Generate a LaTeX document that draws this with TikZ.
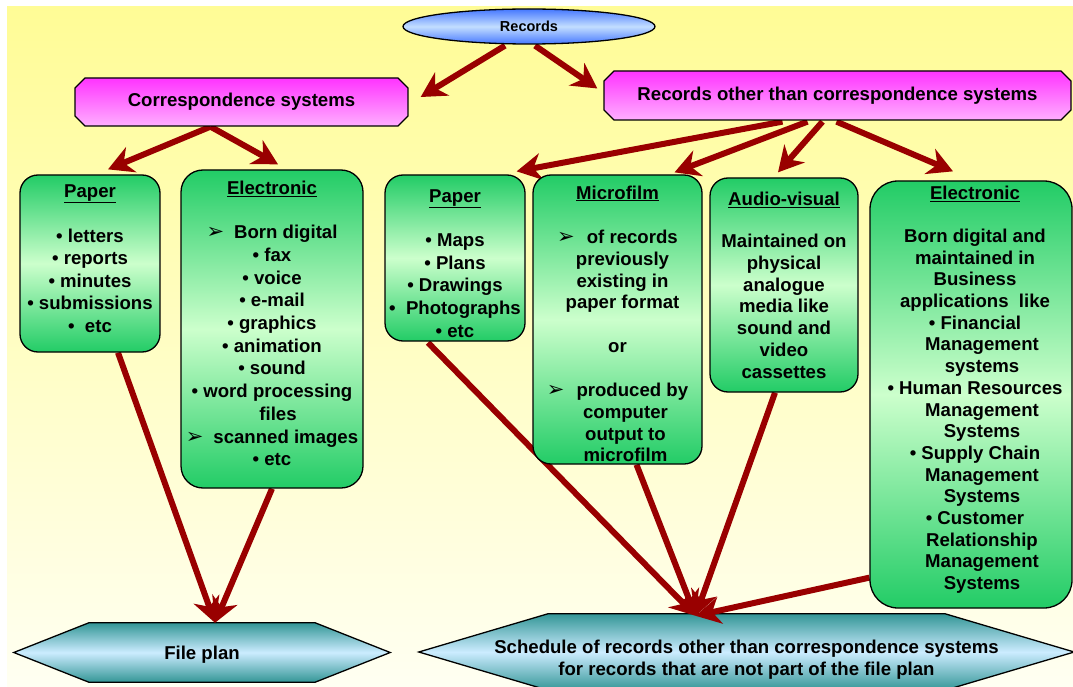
\documentclass[tikz,border=0pt]{standalone}
\usepackage{fontspec}
\setmainfont{Liberation Sans}
\newfontfamily\dingfont{DejaVu Sans}
\usetikzlibrary{arrows.meta,calc,shapes.misc,shapes.geometric}
\definecolor{arrowred}{RGB}{153,0,0}
\definecolor{boxgreen}{RGB}{34,204,102}
\definecolor{palegreen}{RGB}{204,255,204}
\definecolor{pinktop}{RGB}{255,51,255}
\definecolor{pinkpale}{RGB}{255,175,255}
\definecolor{hexteal}{RGB}{51,150,150}
\definecolor{hexpale}{RGB}{204,236,255}
\definecolor{ovalblue}{RGB}{70,120,255}
\definecolor{ovalpale}{RGB}{195,222,255}
\definecolor{bgyellow}{RGB}{255,252,150}
\definecolor{bgivory}{RGB}{255,255,242}
\pgfdeclarelayer{background}
\pgfsetlayers{background,main}
\newcommand{\ptrbullet}{{\dingfont\mdseries\fontsize{21pt}{21pt}\selectfont ➢}}
\begin{document}
\begin{tikzpicture}[x=1pt, y=-1pt, font=\fontsize{18.6pt}{22pt}\selectfont\bfseries, line join=round, >={Stealth[length=25pt,width=27pt,inset=8pt]},
	flow/.style={->, draw=arrowred, line width=6pt},
	tight/.style={font=\fontsize{18.6pt}{21.7pt}\selectfont\bfseries},
	loose/.style={font=\fontsize{18.6pt}{22.7pt}\selectfont\bfseries},
	greenbox/.style={draw=black, line width=1.3pt, rounded corners=18pt, top color=boxgreen, bottom color=boxgreen, middle color=palegreen, align=center, inner sep=0pt},
	headbox/.style={chamfered rectangle, chamfered rectangle xsep=5pt, chamfered rectangle ysep=5pt, draw=black, line width=1.3pt, top color=pinktop, bottom color=pinkpale, inner sep=0pt},
	hexbox/.style={align=center, inner sep=0pt},
	hexfill/.style={draw=black, line width=1.3pt, top color=hexteal, bottom color=hexteal, middle color=hexpale}]
	\useasboundingbox (0,0) rectangle (1073,687);
	% top of the tree
	\node[ellipse, draw=black, line width=1.3pt, minimum width=252pt, minimum height=35pt, top color=ovalblue, bottom color=ovalblue, middle color=ovalpale, font=\fontsize{14.5pt}{17pt}\selectfont\bfseries] (records) at (529,26.5) {Records};
	\node[headbox, minimum width=333pt, minimum height=48pt] (corr) at (241.5,102) {Correspondence systems};
	\node[headbox, minimum width=467pt, minimum height=49pt] (recother) at (837.5,95.5) {Records other than correspondence systems};
	% correspondence systems
	\node[greenbox, font=\fontsize{18.6pt}{22.5pt}\selectfont\bfseries, minimum width=140pt, minimum height=177pt] (paperA) at (90,263.5) {\underline{Paper}\\[22.5pt] • letters\\ • reports\\ • minutes\\ • submissions\\ •\ \ etc\rule[-10pt]{0pt}{10pt}};
	\node[greenbox, loose, rounded corners=22pt, minimum width=182pt, minimum height=318pt] (elecA) at (272,329) {\underline{Electronic}\\[21.3pt] \ptrbullet\hspace{10pt}Born digital\\ • fax\\ • voice\\ • e-mail\\ • graphics\\ • animation\\ • sound\\ • word processing\\ \hspace{12pt}files\\ \ptrbullet\hspace{10pt}scanned images\\ • etc\rule[-11pt]{0pt}{11pt}};
	% other records
	\node[greenbox, minimum width=140pt, minimum height=166pt, font=\fontsize{18.6pt}{22.8pt}\selectfont\bfseries] (paperB) at (455,258) {\rule{0pt}{24pt}\underline{Paper}\\[21pt] • Maps\\ • Plans\\ • Drawings\\ •\ \ Photographs\\ • etc};
	\node[greenbox, tight, minimum width=169pt, minimum height=289pt] (micro) at (617.5,319.5) {\rule{0pt}{22pt}\underline{Microfilm}\\[23pt] \ptrbullet\hspace{12pt}of records\hspace{17pt}\\ \hspace{10pt}previously\\ \hspace{10pt}existing in\\ \hspace{10pt}paper format\\[21.5pt] or\hspace{18pt}\\[23pt] \ptrbullet\hspace{12pt}produced by\hspace{17pt}\\ \hspace{16pt}computer\\ \hspace{16pt}output to\\ \hspace{16pt}microfilm};
	\node[greenbox, tight, minimum width=148pt, minimum height=214pt] (audio) at (784,285) {\underline{Audio-visual}\\[21pt] Maintained on\\ physical\\ analogue\\ media like\\ sound and\\ video\\ cassettes};
	\node[greenbox, tight, rounded corners=28pt, minimum width=202pt, minimum height=427pt] (elecB) at (971,394.5) {\hspace{8pt}\underline{Electronic}\\[21pt] \hspace{8pt}Born digital and\\ \hspace{8pt}maintained in\\ \hspace{8pt}Business\\ \hspace{8pt}applications\ \ like\\ \hspace{8pt}• Financial\\ \hspace{22pt}Management\\ \hspace{22pt}systems\\ \hspace{8pt}• Human Resources\\ \hspace{22pt}Management\\ \hspace{22pt}Systems\\ \hspace{8pt}• Supply Chain\\ \hspace{22pt}Management\\ \hspace{22pt}Systems\\ \hspace{8pt}• Customer\\ \hspace{22pt}Relationship\\ \hspace{22pt}Management\\ \hspace{22pt}Systems\rule[-13pt]{0pt}{13pt}};
	% outcomes
	\node[hexbox, minimum width=376pt, minimum height=59pt] (fileplan) at (202,652.5) {\rule{0pt}{17pt}File plan};
	\node[hexbox, minimum width=655pt, minimum height=76pt] (sched) at (746.5,652) {\rule{0pt}{28pt}Schedule of records other than correspondence systems\\for records that are not part of the file plan};
	\begin{pgfonlayer}{background}
		\fill[top color=bgyellow, bottom color=bgivory] (7,7) rectangle (1073,687);
		\path[hexfill] (fileplan.west) -- ($(fileplan.north west)+(75,0)$) -- ($(fileplan.north east)+(-75,0)$) -- (fileplan.east) -- ($(fileplan.south east)+(-75,0)$) -- ($(fileplan.south west)+(75,0)$) -- cycle;
		\path[hexfill] (sched.west) -- ($(sched.north west)+(129,0)$) -- ($(sched.north east)+(-129,0)$) -- (sched.east) -- ($(sched.south east)+(-129,0)$) -- ($(sched.south west)+(129,0)$) -- cycle;
		\draw[flow] ($(records.south)+(-24,1)$) -- ($(corr.east)+(12,-5)$);
		\draw[flow] ($(records.south)+(6,1)$) -- ($(recother.west)+(-6,-7)$);
		\draw[flow] ($(corr.south)+(-31,0)$) -- ($(paperA.north)+(18,-5)$);
		\draw[flow] ($(corr.south)+(-31,0)$) -- ($(elecA.north)+(6,-5)$);
		\draw[flow] ($(recother.south)+(-55,1)$) -- ($(paperB.north east)+(-9,-3)$);
		\draw[flow] ($(recother.south)+(-30,1)$) -- ($(micro.north)+(57,-2)$);
		\draw[flow] ($(recother.south)+(-15,1)$) -- ($(audio.north)+(-6,-5)$);
		\draw[flow] ($(recother.south)+(-1,1)$) -- ($(elecB.north)+(-18,-9)$);
		\draw[flow] ($(paperA.south)+(28,0)$) -- ($(fileplan.north)+(13,0)$);
		\draw[flow] (elecA.south) -- ($(fileplan.north)+(13,0)$);
		\draw[flow] ($(paperB.south)+(-27,1)$) -- ($(sched.north)+(-51,2)$);
		\draw[flow] ($(micro.south)+(19,0)$) -- ($(sched.north)+(-51,2)$);
		\draw[flow] ($(audio.south)+(-9,0)$) -- ($(sched.north)+(-51,2)$);
		\draw[flow] ($(elecB.south west)+(0,-31)$) -- ($(sched.north)+(-51,2)$);
	\end{pgfonlayer}
\end{tikzpicture}
\end{document}
